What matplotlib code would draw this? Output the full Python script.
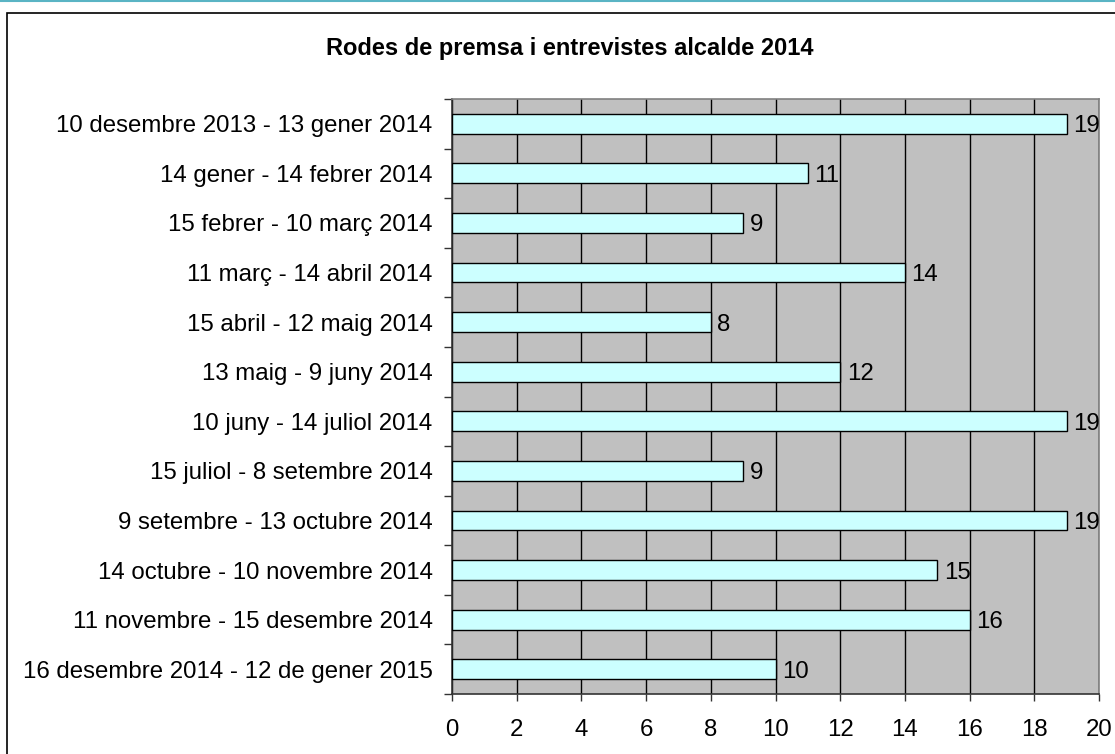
import numpy as np
import matplotlib.pyplot as plt
from matplotlib.patches import Rectangle
from matplotlib.lines import Line2D

plt.rcParams['font.family'] = ['Liberation Sans', 'DejaVu Sans']

periodes = [
    '10 desembre 2013 - 13 gener 2014',
    '14 gener - 14 febrer 2014',
    '15 febrer - 10 març 2014',
    '11 març - 14 abril 2014',
    '15 abril - 12 maig 2014',
    '13 maig - 9 juny 2014',
    '10 juny - 14 juliol 2014',
    '15 juliol - 8 setembre 2014',
    '9 setembre - 13 octubre 2014',
    '14 octubre - 10 novembre 2014',
    '11 novembre - 15 desembre 2014',
    '16 desembre 2014 - 12 de gener 2015',
]
valors = [19, 11, 9, 14, 8, 12, 19, 9, 19, 15, 16, 10]

fig = plt.figure(figsize=(11.15, 7.54), dpi=100)
fig.patch.set_facecolor('white')

# chart border and top accent line
fig.patches.append(Rectangle((7/1115, -0.1), 1.2, 1 - 13/754 + 0.1, transform=fig.transFigure,
                             fill=False, edgecolor='black', linewidth=1.2))
fig.lines.append(Line2D([0, 1], [1 - 1/754, 1 - 1/754], transform=fig.transFigure,
                        color='#5ab4c4', linewidth=1.5))

ax = fig.add_axes([452/1115, 1 - 694/754, 647/1115, 595/754])
ax.set_facecolor('#c0c0c0')

n = len(periodes)
pos = np.arange(n)
ax.barh(pos, valors, height=0.4, color='#ccffff', edgecolor='black', linewidth=1, zorder=3)
for p, v in zip(pos, valors):
    ax.text(v + 0.2, p, str(v), va='center_baseline', ha='left', fontsize=17.3, zorder=4)

ax.set_xlim(0, 20)
ax.set_ylim(n - 0.5, -0.5)
ax.set_xticks(np.arange(0, 21, 2))
ax.xaxis.grid(True, color='black', linewidth=1, zorder=1)
ax.set_axisbelow(True)

ax.set_yticks(pos)
ax.set_yticklabels(periodes, fontsize=17.3)
for lab in ax.get_yticklabels():
    lab.set_verticalalignment('center_baseline')
ax.set_yticks(np.arange(-0.5, n, 1), minor=True)
ax.tick_params(axis='y', which='major', length=0, pad=14)
ax.tick_params(axis='y', which='minor', length=6, width=1, color='#333333')
ax.tick_params(axis='x', length=5, width=1, labelsize=17.3, pad=13, color='#333333')

for s in ['top', 'right']:
    ax.spines[s].set_color('#808080')
    ax.spines[s].set_linewidth(1.2)
for s in ['left', 'bottom']:
    ax.spines[s].set_color('#333333')
    ax.spines[s].set_linewidth(1.2)

fig.text(570/1115, 1 - 48/754, 'Rodes de premsa i entrevistes alcalde 2014',
         ha='center', va='center', fontsize=17, fontweight='bold')

fig.savefig('out.png', dpi=100)
